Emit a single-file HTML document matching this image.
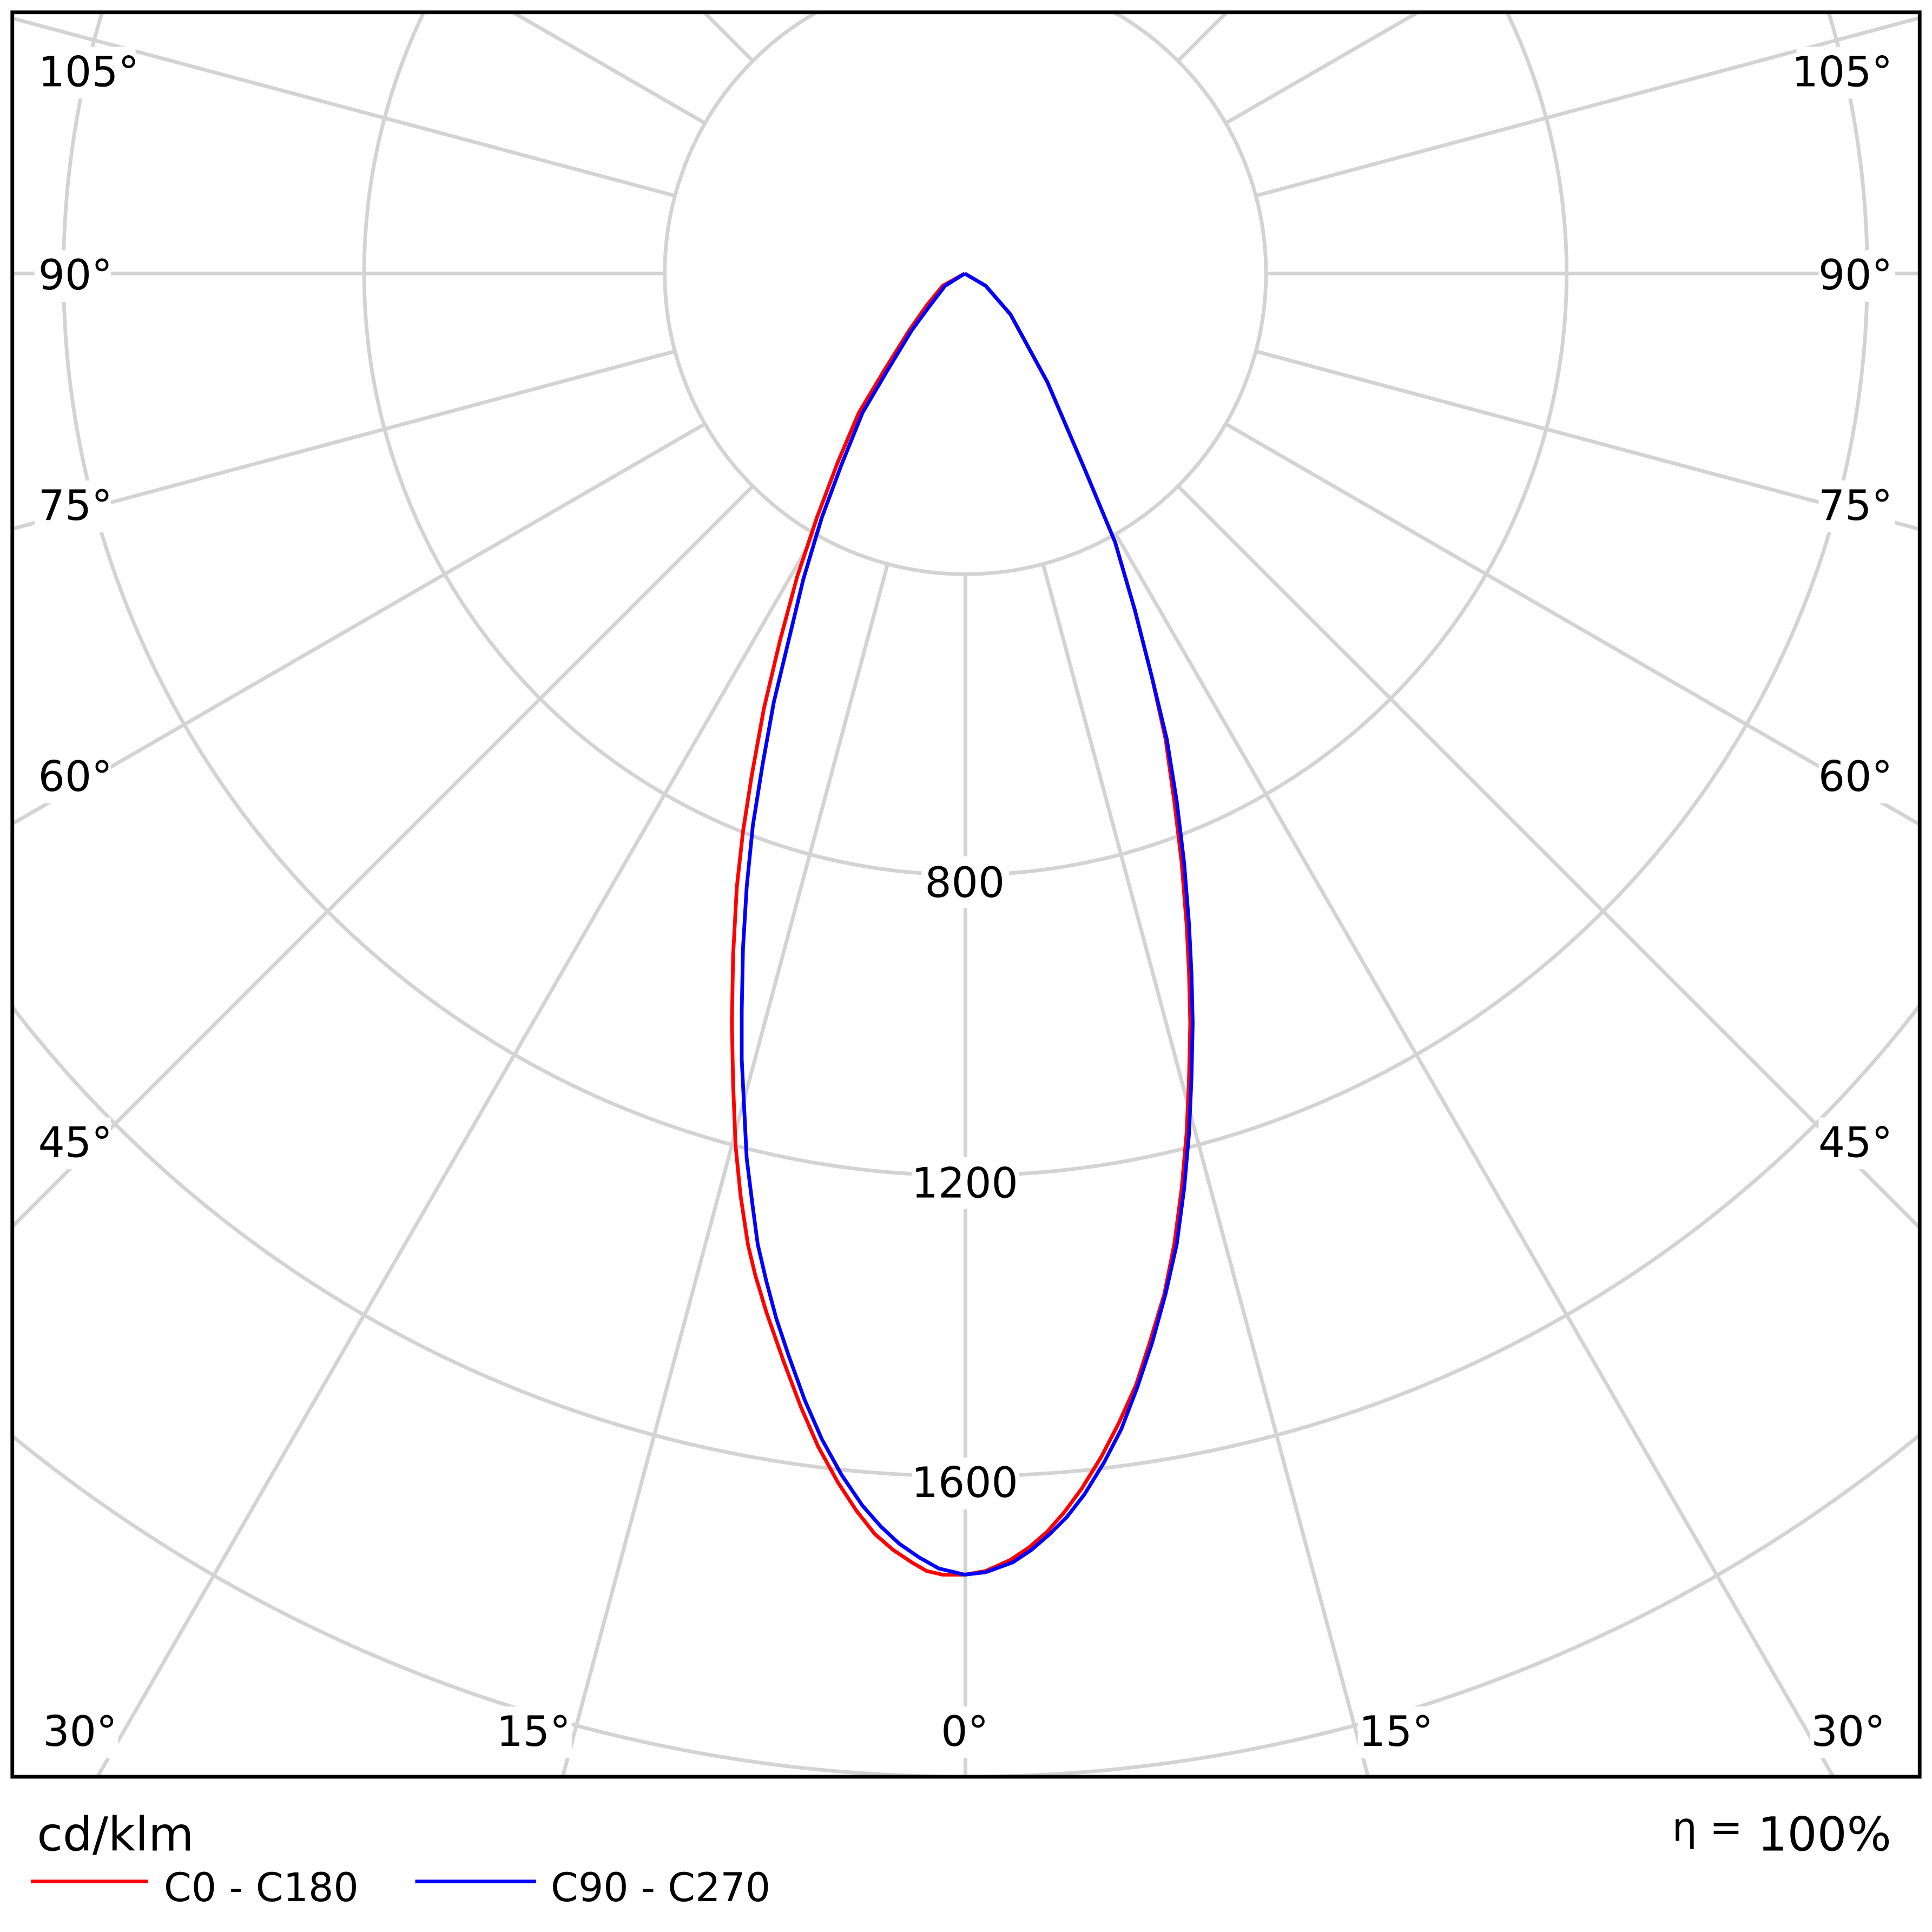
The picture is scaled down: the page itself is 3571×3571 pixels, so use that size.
<!DOCTYPE html>
<html><head><meta charset="utf-8"><style>html,body{margin:0;padding:0;background:#fff;width:3571px;height:3571px;overflow:hidden}svg{display:block}</style></head>
<body>
<svg width="3571" height="3571" viewBox="0 0 1568 1568" xmlns="http://www.w3.org/2000/svg" font-family="'DejaVu Sans','Liberation Sans',sans-serif">
<defs><clipPath id="c"><rect x="10" y="10" width="1548" height="1432"/></clipPath></defs>
<rect width="1568" height="1568" fill="#fff"/>
<g clip-path="url(#c)" stroke="#d3d3d3" stroke-width="3" fill="none">
<circle cx="783.5" cy="222" r="244"/><circle cx="783.5" cy="222" r="488"/><circle cx="783.5" cy="222" r="732"/><circle cx="783.5" cy="222" r="976"/><circle cx="783.5" cy="222" r="1220"/><circle cx="783.5" cy="222" r="1464"/>
<line x1="783.5" y1="466" x2="783.5" y2="2722"/>
<line x1="846.6" y1="457.7" x2="1430.5" y2="2636.8"/><line x1="720.4" y1="457.7" x2="136.5" y2="2636.8"/>
<line x1="905.5" y1="433.3" x2="2033.5" y2="2387"/><line x1="661.5" y1="433.3" x2="-466.5" y2="2387"/>
<line x1="956" y1="394.5" x2="2551.3" y2="1989.8"/><line x1="611" y1="394.5" x2="-984.3" y2="1989.8"/>
<line x1="994.8" y1="344" x2="2948.5" y2="1472"/><line x1="572.2" y1="344" x2="-1381.5" y2="1472"/>
<line x1="1019.2" y1="285.1" x2="3198.3" y2="869"/><line x1="547.8" y1="285.1" x2="-1631.3" y2="869"/>
<line x1="1027.5" y1="222" x2="3283.5" y2="222"/><line x1="539.5" y1="222" x2="-1716.5" y2="222"/>
<line x1="1019.2" y1="158.9" x2="3198.3" y2="-425"/><line x1="547.8" y1="158.9" x2="-1631.3" y2="-425"/>
<line x1="994.8" y1="100" x2="2948.5" y2="-1028"/><line x1="572.2" y1="100" x2="-1381.5" y2="-1028"/>
<line x1="956" y1="49.5" x2="2551.3" y2="-1545.8"/><line x1="611" y1="49.5" x2="-984.3" y2="-1545.8"/>
<line x1="905.5" y1="10.7" x2="2033.5" y2="-1943"/><line x1="661.5" y1="10.7" x2="-466.5" y2="-1943"/>
</g>
<g fill="#fff">
<rect x="28" y="38" width="82" height="42"/><rect x="28" y="203" width="62" height="42"/><rect x="28" y="390" width="62" height="42"/><rect x="28" y="610" width="62" height="42"/><rect x="28" y="907" width="62" height="42"/>
<rect x="1458" y="38" width="82" height="42"/><rect x="1476" y="203" width="62" height="42"/><rect x="1476" y="390" width="62" height="42"/><rect x="1476" y="610" width="62" height="42"/><rect x="1476" y="907" width="62" height="42"/>
<rect x="34" y="1385" width="62" height="42"/><rect x="402" y="1385" width="62" height="42"/><rect x="760" y="1385" width="47" height="42"/><rect x="1102" y="1385" width="62" height="42"/><rect x="1469" y="1385" width="62" height="42"/>
<rect x="748" y="695" width="71" height="42"/><rect x="740" y="939" width="87" height="42"/><rect x="740" y="1183" width="87" height="42"/>
</g>
<g fill="none" stroke-width="3" stroke-linejoin="round">
<polyline stroke="#f00" points="783,222 800,232 820,255 850,310 880,380 905,440 921,495 935,550 946,600 953,650 959,700 963,750 965,790 966,830 965,875 963,920 959,965 953,1010 945,1050 933,1090 922,1124 908,1155 894,1182 878,1208 864,1227 850,1243 835,1256 820,1266 800,1275 783,1278 765,1278 752,1275 740,1268 725,1258 710,1245 695,1226 680,1203 664,1174 650,1142 636,1105 622,1065 613,1035 607,1010 601,970 597,930 595,880 594,830 595,775 598,720 603,675 610,630 620,575 633,520 647,468 663,420 680,375 697,335 718,300 738,268 752,248 765,232 783,222"/>
<polyline stroke="#00f" points="783,222 800,232 820,255 850,310 880,380 905,440 921,495 935,550 947,600 955,650 961,700 965,750 967,790 968,830 967,875 965,920 961,965 955,1010 946,1050 935,1090 923,1126 910,1160 896,1187 880,1213 866,1231 852,1245 837,1258 822,1268 800,1276 783,1278 762,1273 746,1264 730,1253 715,1239 700,1222 683,1197 667,1168 653,1136 640,1100 630,1070 622,1040 615,1010 611,980 606,940 604,900 602,860 602,820 603,770 606,720 611,670 619,620 628,570 640,520 652,470 667,420 683,377 700,335 720,301 740,268 754,249 767,232 783,222"/>
</g>
<g font-size="34" fill="#000">
<text x="31" y="70">105°</text><text x="31" y="235">90°</text><text x="31" y="422">75°</text><text x="31" y="642">60°</text><text x="31" y="939">45°</text>
<g text-anchor="end"><text x="1536" y="70">105°</text><text x="1536" y="235">90°</text><text x="1536" y="422">75°</text><text x="1536" y="642">60°</text><text x="1536" y="939">45°</text></g>
<g text-anchor="middle"><text x="65" y="1417">30°</text><text x="433" y="1417">15°</text><text x="783" y="1417">0°</text><text x="1133" y="1417">15°</text><text x="1500" y="1417">30°</text>
<text x="783" y="728">800</text><text x="783" y="972">1200</text><text x="783" y="1215">1600</text></g>
</g>
<rect x="10" y="10" width="1548" height="1432" fill="none" stroke="#000" stroke-width="3"/>
<text x="30" y="1502" font-size="38">cd/klm</text>
<line x1="25" y1="1527" x2="120" y2="1527" stroke="#f00" stroke-width="3"/>
<text x="133" y="1543" font-size="32">C0 - C180</text>
<line x1="337" y1="1527" x2="435" y2="1527" stroke="#00f" stroke-width="3"/>
<text x="447" y="1543" font-size="32">C90 - C270</text>
<text x="1535" y="1502" font-size="38" text-anchor="end"><tspan font-size="32" dy="-8">η =</tspan><tspan dy="8"> 100%</tspan></text>
</svg>
</body></html>
